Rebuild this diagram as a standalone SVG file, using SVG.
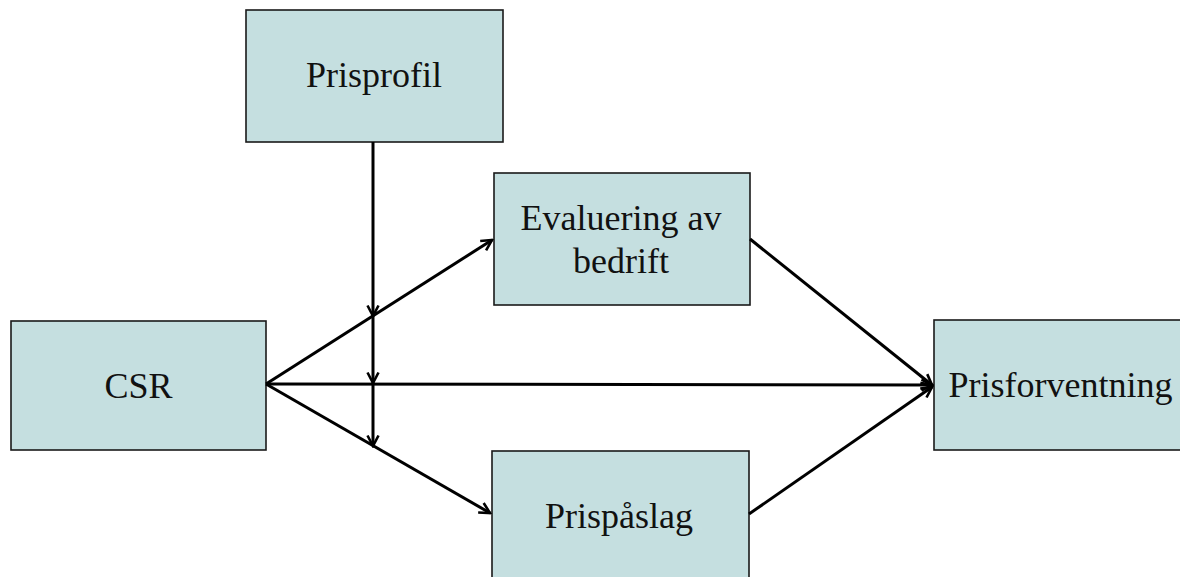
<svg xmlns="http://www.w3.org/2000/svg" width="1180" height="577" viewBox="0 0 1180 577">
  <style>
    .box { fill: #c5dfe0; stroke: #1a1a1a; stroke-width: 1.6; }
    .lbl { font-family: 'Liberation Serif', 'DejaVu Serif', serif; font-size: 36px; fill: #111; text-anchor: middle; }
    .con { stroke: #000; stroke-width: 3; fill: none; marker-end: url(#arr); }
  </style>
  <defs>
    <marker id="arr" viewBox="0 0 14 14" refX="12" refY="7" markerWidth="14" markerHeight="14" markerUnits="userSpaceOnUse" orient="auto">
      <path d="M1.5,1.5 L12,7 L1.5,12.5" fill="none" stroke="#000" stroke-width="2.6" stroke-linejoin="miter"/>
    </marker>
  </defs>
  <rect width="1180" height="577" fill="#fff"/>

  <g id="node-prisprofil">
    <rect class="box" x="246" y="10" width="257" height="132"/>
    <text class="lbl" font-family="Liberation Serif, serif" x="374" y="87">Prisprofil</text>
  </g>
  <g id="node-csr">
    <rect class="box" x="11" y="321" width="255" height="129"/>
    <text class="lbl" font-family="Liberation Serif, serif" x="138.5" y="398">CSR</text>
  </g>
  <g id="node-evaluering">
    <rect class="box" x="494" y="173" width="256" height="132"/>
    <text class="lbl" font-family="Liberation Serif, serif" x="621" y="230">Evaluering av</text>
    <text class="lbl" font-family="Liberation Serif, serif" x="621" y="273">bedrift</text>
  </g>
  <g id="node-prispaslag">
    <rect class="box" x="492" y="451" width="257" height="140"/>
    <text class="lbl" font-family="Liberation Serif, serif" x="619" y="528">Prispåslag</text>
  </g>
  <g id="node-prisforventning">
    <rect class="box" x="934" y="320" width="260" height="130"/>
    <text class="lbl" font-family="Liberation Serif, serif" x="1060.5" y="397">Prisforventning</text>
  </g>

  <g id="connectors">
    <line class="con" x1="266" y1="384" x2="492" y2="240"/>
    <line class="con" x1="266" y1="384" x2="490" y2="513"/>
    <line class="con" x1="266" y1="384" x2="932" y2="385"/>
    <line class="con" x1="750" y1="239" x2="932" y2="385"/>
    <line class="con" x1="749" y1="514" x2="932" y2="387"/>
    <line class="con" x1="373" y1="142" x2="373" y2="316"/>
    <line class="con" x1="373" y1="316" x2="373" y2="383"/>
    <line class="con" x1="373" y1="383" x2="373" y2="446"/>
  </g>
</svg>
